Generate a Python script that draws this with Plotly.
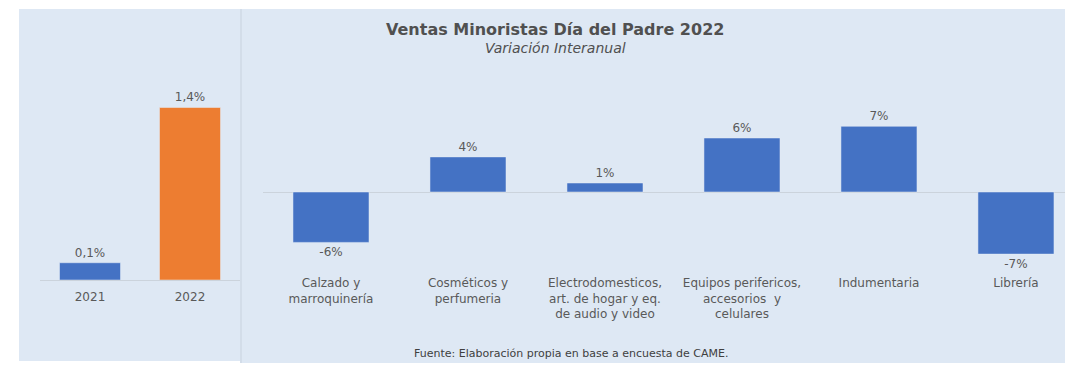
import plotly.graph_objects as go

# page offset (default body margin) is compensated so positions match the target
OFF = 8
W, H = 1078 - OFF, 380 - OFF

# Left panel data
years = ["2021", "2022"]
year_values = [0.14, 1.4]
year_colors = ["#4472C4", "#ED7D31"]

# Right panel data
categories = [
    "Calzado y<br>marroquinería",
    "Cosméticos y<br>perfumeria",
    "Electrodomesticos,<br>art. de hogar y eq.<br>de audio y video",
    "Equipos perifericos,<br>accesorios  y<br>celulares",
    "Indumentaria",
    "Librería",
]
cat_values = [-5.6, 3.9, 1.0, 6.0, 7.3, -6.9]

title_text = "Ventas Minoristas Día del Padre 2022"
subtitle_text = "Variación Interanual"
source_text = "Fuente: Elaboración propia en base a encuesta de CAME."

def px(x):
    return (x - OFF) / W

def py(y):
    return 1 - (y - OFF) / H

FONT = "DejaVu Sans, Verdana, sans-serif"
GRAY = "#595959"
PANEL = "#DEE8F4"

fig = go.Figure()

fig.add_trace(go.Bar(
    x=years, y=year_values, marker_color=year_colors, width=0.61,
    texttemplate="%{y:.1f}%", textposition="outside",
    textfont=dict(size=12, color=GRAY, family=FONT),
    cliponaxis=False, xaxis="x", yaxis="y", showlegend=False,
))

fig.add_trace(go.Bar(
    x=list(range(len(categories))), y=cat_values, marker_color="#4472C4", width=0.555,
    texttemplate="%{y:.0f}%", textposition="outside",
    textfont=dict(size=12, color=GRAY, family=FONT),
    cliponaxis=False, xaxis="x2", yaxis="y2", showlegend=False,
))

# right panel y scale: 0 at y=192px, 9px per unit
y2_top_px, y2_bot_px, zero_px, scale = 100, 272, 192, 9.0
y2_range = [-(y2_bot_px - zero_px) / scale, (zero_px - y2_top_px) / scale]

fig.update_layout(
    width=W, height=H,
    margin=dict(l=0, r=0, t=0, b=0),
    paper_bgcolor="white",
    plot_bgcolor="rgba(0,0,0,0)",
    separators=",.",
    font=dict(family=FONT, color=GRAY, size=12),
    xaxis=dict(
        domain=[px(40), px(240)], anchor="y", type="category",
        range=[-0.5, 1.5], showgrid=False, showline=True, linecolor="#CBD3DC",
        linewidth=1, ticks="", tickfont=dict(size=12, color=GRAY),
        ticklabelstandoff=6,
    ),
    yaxis=dict(
        domain=[py(280), py(20)], anchor="x", range=[0, 2.11],
        visible=False, showgrid=False, zeroline=False,
    ),
    xaxis2=dict(
        domain=[px(262.5), px(1065)], anchor="y2",
        range=[-0.5, 5.358], showgrid=False, showline=False, zeroline=False,
        tickmode="array", tickvals=list(range(len(categories))), ticktext=categories,
        ticks="", tickfont=dict(size=12, color=GRAY), tickangle=0,
        ticklabelstandoff=2,
    ),
    yaxis2=dict(
        domain=[py(y2_bot_px), py(y2_top_px)], anchor="x2", range=y2_range,
        showgrid=False, showticklabels=False, zeroline=True,
        zerolinecolor="#CBD3DC", zerolinewidth=1,
    ),
    shapes=[
        dict(type="rect", xref="paper", yref="paper", x0=px(19), x1=px(240),
             y0=py(361), y1=py(9), fillcolor=PANEL, line=dict(width=0), layer="below"),
        dict(type="rect", xref="paper", yref="paper", x0=px(242), x1=px(1065),
             y0=py(363), y1=py(9), fillcolor=PANEL, line=dict(width=0), layer="below"),
        dict(type="line", xref="paper", yref="paper", x0=px(241), x1=px(241),
             y0=py(363), y1=py(9), line=dict(color="#D3DDE9", width=2), layer="below"),
    ],
    annotations=[
        dict(text="<b>" + title_text + "</b>", x=px(555), y=py(30), xref="paper", yref="paper",
             showarrow=False, font=dict(size=16, color="#505050", family=FONT),
             xanchor="center", yanchor="middle"),
        dict(text="<i>" + subtitle_text + "</i>", x=px(555), y=py(48), xref="paper", yref="paper",
             showarrow=False, font=dict(size=14, color="#505050", family=FONT),
             xanchor="center", yanchor="middle"),
        dict(text=source_text, x=px(571), y=py(353), xref="paper", yref="paper",
             showarrow=False, font=dict(size=11, color="#404040", family=FONT),
             xanchor="center", yanchor="middle"),
    ],
)

fig.write_html("out.html")
